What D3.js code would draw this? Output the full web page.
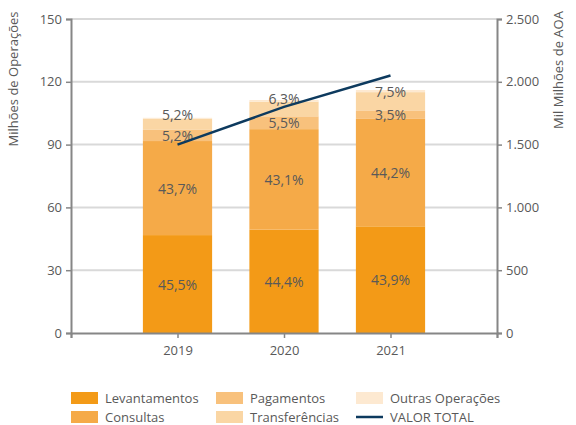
<!DOCTYPE html>
<html>
<head>
<meta charset="utf-8">
<script src="https://cdn.jsdelivr.net/npm/d3@7"></script>
<style>
  body { margin: 0; background: #fff; }
  text { font-family: "Open Sans", sans-serif; fill: #595959; }
</style>
</head>
<body>
<div id="chart"></div>
<script>
const width = 576
const height = 425

// data
const years = ["2019", "2020", "2021"]
const totalOps = [102.8, 111.3, 116.1]          // Milhões de Operações
const levantamentos = [45.5, 44.4, 43.9]        // % do total
const consultas = [43.7, 43.1, 44.2]
const pagamentos = [5.2, 5.5, 3.5]
const transferencias = [5.2, 6.3, 7.5]
const outras = [0.4, 0.7, 0.9]
const valorTotal = [1500, 1800, 2050]           // Mil Milhões de AOA
const leftTicks = [0, 30, 60, 90, 120, 150]
const rightTicks = [0, 500, 1000, 1500, 2000, 2500]

const seriesNames = ["Levantamentos", "Consultas", "Pagamentos", "Transferências", "Outras Operações"]
const seriesShares = [levantamentos, consultas, pagamentos, transferencias, outras]
const colors = ["#f39a17", "#f5aa48", "#f8c17c", "#fad6a4", "#fde9d1"]

const margin = {top: 19, bottom: 92, left: 71, right: 79}

const svg = d3.select("div#chart").append("svg").attr("width", width).attr("height", height)

const x = d3.scalePoint().domain(["", ...years, " "]).range([margin.left, width - margin.right])
const y = d3.scaleLinear().domain([0, 150]).range([height - margin.bottom, margin.top])
const y2 = d3.scaleLinear().domain([0, 2500]).range([height - margin.bottom, margin.top])
const barW = x.step() * 0.65

// gridlines
svg.append("g").selectAll("line").data(leftTicks.slice(1)).enter().append("line")
  .attr("x1", margin.left).attr("x2", width - margin.right)
  .attr("y1", d => y(d)).attr("y2", d => y(d))
  .attr("stroke", "#d9d9d9").attr("stroke-width", 2)

// stacked rows
const rows = years.map((yr, i) => {
  const r = {year: yr}
  seriesNames.forEach((s, k) => r[s] = totalOps[i] * seriesShares[k][i] / 100)
  return r
})
const stacked = d3.stack().keys(seriesNames)(rows)

const barGroup = svg.append("g")
stacked.forEach((layer, k) => {
  barGroup.selectAll(".s" + k).data(layer).enter().append("rect")
    .attr("class", "s" + k)
    .attr("x", d => x(d.data.year) - barW / 2)
    .attr("y", d => y(d[1]))
    .attr("width", barW)
    .attr("height", d => y(d[0]) - y(d[1]))
    .attr("fill", colors[k])
})

// axes
const axisColor = "#868686"
const xAxis = d3.axisBottom(x).tickSize(5).tickFormat(d => d.trim())
const yAxis = d3.axisLeft(y).tickValues(leftTicks).tickSize(5).tickPadding(4)
const y2Axis = d3.axisRight(y2).tickValues(rightTicks).tickSize(5).tickPadding(4)
  .tickFormat(d => d3.format(",")(d).replace(/,/g, "."))

function styleAxis(g) {
  g.selectAll("path").attr("stroke", axisColor).attr("stroke-width", 2)
  g.selectAll("line").attr("stroke", axisColor).attr("stroke-width", 1.5)
  g.selectAll("text").attr("fill", "#595959").style("font-size", "13px").style("font-family", "Open Sans, sans-serif")
}

svg.append("g").attr("transform", `translate(0, ${height - margin.bottom})`).call(xAxis).call(styleAxis)
  .selectAll("text").attr("dy", "1.1em")
svg.append("g").attr("transform", `translate(${margin.left}, 0)`).call(yAxis).call(styleAxis)
svg.append("g").attr("transform", `translate(${width - margin.right}, 0)`).call(y2Axis).call(styleAxis)

// axis titles
svg.append("text").attr("transform", "translate(18, 79) rotate(-90)")
  .attr("text-anchor", "middle").style("font-size", "13px").text("Milhões de Operações")
svg.append("text").attr("transform", "translate(563, 70) rotate(-90)")
  .attr("text-anchor", "middle").style("font-size", "13px").text("Mil Milhões de AOA")

// percentage labels (all but Outras)
const fmt = v => v.toFixed(1).replace(".", ",") + "%"
stacked.slice(0, 4).forEach((layer, k) => {
  barGroup.selectAll(".l" + k).data(layer).enter().append("text")
    .attr("x", d => x(d.data.year))
    .attr("y", d => (y(d[0]) + y(d[1])) / 2 - (k === 3 ? 10 : 0))
    .attr("text-anchor", "middle").attr("dominant-baseline", "central")
    .style("font-size", "14px")
    .text((d, i) => fmt(seriesShares[k][i]))
})

// line
const line = d3.line().x((d, i) => x(years[i])).y(d => y2(d))
svg.append("path").datum(valorTotal).attr("d", line)
  .attr("fill", "none").attr("stroke", "#0d3a5e").attr("stroke-width", 2.5)

// legend
const legendItems = [
  {name: "Levantamentos", col: 0, row: 0, color: colors[0]},
  {name: "Consultas", col: 0, row: 1, color: colors[1]},
  {name: "Pagamentos", col: 1, row: 0, color: colors[2]},
  {name: "Transferências", col: 1, row: 1, color: colors[3]},
  {name: "Outras Operações", col: 2, row: 0, color: colors[4]},
  {name: "VALOR TOTAL", col: 2, row: 1, line: true}
]
const colX = [71, 216, 356]
const rowY = [398, 417]
const legend = svg.append("g")
legendItems.forEach(it => {
  const gx = colX[it.col], gy = rowY[it.row]
  if (it.line) {
    legend.append("line").attr("x1", gx).attr("x2", gx + 27).attr("y1", gy).attr("y2", gy)
      .attr("stroke", "#0d3a5e").attr("stroke-width", 2.5)
  } else {
    legend.append("rect").attr("x", gx).attr("y", gy - 6).attr("width", 27).attr("height", 12).attr("fill", it.color)
  }
  legend.append("text").attr("x", gx + 34).attr("y", gy).attr("dominant-baseline", "central")
    .style("font-size", "13px").text(it.name)
})
</script>
</body>
</html>
